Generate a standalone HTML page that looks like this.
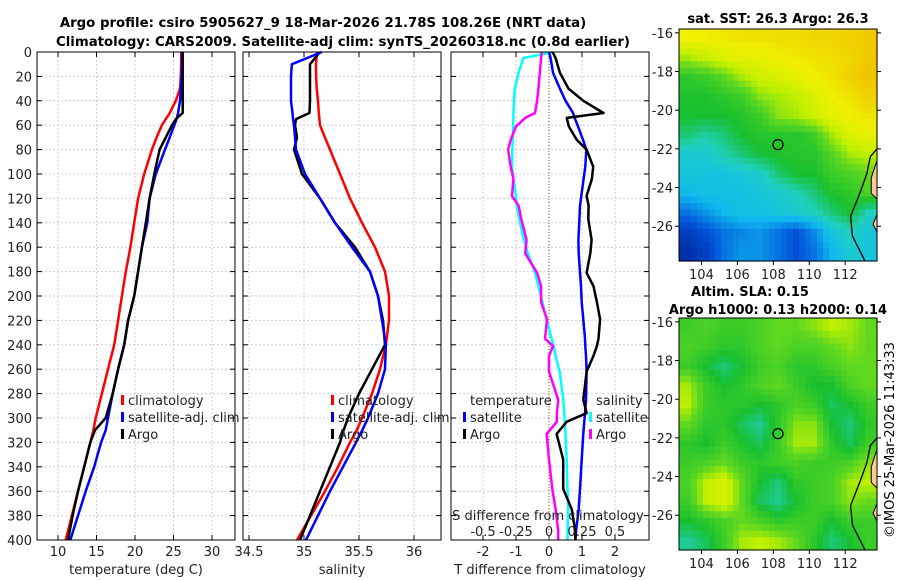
<!DOCTYPE html>
<html><head><meta charset="utf-8"><style>
body{margin:0;background:#fff;}
svg{display:block;font-family:"DejaVu Sans","Liberation Sans",sans-serif;}
</style></head><body>
<svg id="fig" width="900" height="580" viewBox="0 0 900 580" xmlns="http://www.w3.org/2000/svg">
<text x="323" y="27" font-size="13.3" font-weight="bold" text-anchor="middle">Argo profile: csiro 5905627_9 18-Mar-2026 21.78S 108.26E (NRT data)</text>
<text x="343" y="46" font-size="13.3" font-weight="bold" text-anchor="middle">Climatology: CARS2009. Satellite-adj clim: synTS_20260318.nc (0.8d earlier)</text>
<text x="778" y="23" font-size="13" font-weight="bold" text-anchor="middle">sat. SST: 26.3 Argo: 26.3</text>
<text x="750" y="296" font-size="13" font-weight="bold" text-anchor="middle">Altim. SLA: 0.15</text>
<text x="778" y="314" font-size="13" font-weight="bold" text-anchor="middle">Argo h1000: 0.13 h2000: 0.14</text>
<text transform="translate(894,440) rotate(-90)" font-size="13" text-anchor="middle">©IMOS 25-Mar-2026 11:43:33</text>
<g id="g"></g>
</svg>
<script>
// ---- profile data ----
const depths=[0,10,20,30,40,50,55,60,70,80,100,120,140,160,180,200,220,240,260,280,300,310,320,340,360,380,400];
const tempClim=[26.0,26.0,25.95,25.85,25.3,24.5,24.0,23.5,22.8,22.2,21.2,20.4,19.9,19.4,18.8,18.3,17.8,17.3,16.5,15.7,14.9,14.6,14.2,13.4,12.6,11.8,11.0];
const tempSat=[26.1,26.1,26.05,25.95,25.85,25.6,25.4,25.1,24.5,23.9,22.7,21.9,21.6,20.9,20.4,19.9,19.1,18.6,17.8,17.1,16.5,16.2,15.6,14.7,13.6,12.6,11.6];
const tempArgo=[26.2,26.2,26.2,26.2,26.2,26.2,25.3,24.8,24.0,23.2,22.5,21.9,21.4,20.9,20.4,19.9,19.1,18.6,17.8,17.1,16.2,14.8,14.2,13.4,12.6,11.9,11.3];
const salClim=[35.118,35.109,35.11,35.115,35.127,35.135,35.14,35.145,35.19,35.236,35.327,35.418,35.527,35.645,35.736,35.773,35.773,35.745,35.691,35.618,35.527,35.48,35.418,35.309,35.191,35.064,34.936];
const salSat=[35.164,34.89,34.882,34.882,34.882,34.895,34.9,34.909,34.918,34.927,35.009,35.145,35.282,35.436,35.6,35.673,35.709,35.745,35.736,35.673,35.582,35.53,35.473,35.355,35.236,35.127,35.018];
const salArgo=[35.145,35.055,35.055,35.055,35.055,35.05,34.927,34.918,34.936,34.909,34.982,35.145,35.282,35.464,35.6,35.673,35.718,35.736,35.618,35.5,35.4,35.36,35.327,35.236,35.145,35.055,34.964];
// difference panel
const diffDepths=[0,5,17,30,40,50,54,61,72,80,94,104,118,126,137,154,165,181,192,205,219,235,241,249,262,285,296,303,313,334,358,375,392,400];
const tDiffArgo=[0.11,0.2,0.33,0.59,1.04,1.65,0.54,0.6,0.84,1.14,1.34,1.3,1.14,1.2,1.19,1.29,1.25,1.14,1.35,1.45,1.55,1.5,1.45,1.35,1.14,1.04,1.14,0.54,0.23,0.43,0.43,0.69,0.79,0.8];
const tDiffSat=[0.0,0.05,0.12,0.33,0.5,0.73,0.78,0.88,1.03,1.13,1.1,1.05,0.98,0.94,0.92,0.89,0.9,0.94,0.97,0.99,1.04,1.09,1.1,1.12,1.14,1.12,1.09,1.07,1.04,0.99,0.94,0.9,0.82,0.8];
const sDiffSat=[0.03,-0.195,-0.23,-0.26,-0.265,-0.27,-0.27,-0.272,-0.275,-0.278,-0.28,-0.27,-0.25,-0.245,-0.225,-0.19,-0.16,-0.106,-0.08,-0.05,-0.02,0.02,0.035,0.05,0.08,0.108,0.115,0.12,0.125,0.134,0.14,0.146,0.14,0.14];
const sDiffArgo=[-0.055,-0.06,-0.07,-0.08,-0.09,-0.106,-0.18,-0.25,-0.29,-0.31,-0.29,-0.27,-0.28,-0.23,-0.21,-0.17,-0.18,-0.09,-0.06,-0.06,-0.015,-0.03,0.03,0.0,0.0,0.07,0.06,0.06,-0.018,0.0,0.025,0.05,0.07,0.07];
const depthTicks=[0,20,40,60,80,100,120,140,160,180,200,220,240,260,280,300,320,340,360,380,400];
const tempTicks=[10,15,20,25,30];
const salTicks=[34.5,35,35.5,36];
const tDiffTicks=[-2,-1,0,1,2];
const sDiffTicks=[-0.5,-0.25,0,0.25,0.5];
const sDiffTickLabels=["-0.5","-0.25","0","0.25","0.5"];
// ---- map data (rows top->bottom, lon 102.75..113.77, lat -15.8..-27.8) ----
const sstGrid=[
[0.8,0.8,0.81,0.82,0.82,0.83,0.83,0.84,0.84,0.85,0.86],
[0.7,0.73,0.76,0.78,0.78,0.8,0.81,0.82,0.83,0.84,0.86],
[0.58,0.6,0.64,0.7,0.74,0.76,0.78,0.8,0.82,0.85,0.87],
[0.56,0.56,0.58,0.6,0.68,0.7,0.72,0.76,0.8,0.82,0.85],
[0.55,0.55,0.55,0.57,0.6,0.68,0.7,0.74,0.78,0.8,0.82],
[0.5,0.47,0.5,0.55,0.57,0.57,0.57,0.6,0.7,0.76,0.78],
[0.42,0.42,0.46,0.5,0.54,0.56,0.57,0.57,0.63,0.7,0.72],
[0.4,0.39,0.39,0.41,0.43,0.5,0.55,0.55,0.6,0.62,0.65],
[0.36,0.38,0.38,0.38,0.4,0.42,0.45,0.5,0.56,0.58,0.62],
[0.25,0.3,0.35,0.38,0.38,0.4,0.42,0.45,0.5,0.55,0.45],
[0.15,0.2,0.25,0.28,0.3,0.25,0.2,0.28,0.4,0.45,0.4],
[0.1,0.15,0.25,0.3,0.3,0.25,0.2,0.25,0.35,0.42,0.4]];
const slaGrid=[
[0.6,0.62,0.6,0.6,0.62,0.65,0.65,0.68,0.72,0.7,0.65],
[0.62,0.6,0.58,0.58,0.62,0.65,0.62,0.62,0.65,0.68,0.65],
[0.6,0.55,0.5,0.55,0.6,0.62,0.58,0.58,0.62,0.65,0.65],
[0.7,0.6,0.55,0.58,0.62,0.65,0.6,0.55,0.55,0.62,0.65],
[0.72,0.6,0.58,0.58,0.55,0.58,0.62,0.6,0.52,0.55,0.6],
[0.65,0.58,0.58,0.52,0.48,0.58,0.68,0.68,0.55,0.5,0.58],
[0.58,0.55,0.6,0.56,0.52,0.6,0.7,0.7,0.58,0.52,0.6],
[0.6,0.62,0.65,0.6,0.58,0.6,0.62,0.6,0.6,0.62,0.68],
[0.62,0.72,0.76,0.65,0.55,0.5,0.58,0.6,0.62,0.7,0.72],
[0.6,0.72,0.76,0.65,0.52,0.48,0.55,0.6,0.62,0.68,0.65],
[0.55,0.58,0.62,0.65,0.62,0.58,0.6,0.6,0.55,0.6,0.6],
[0.48,0.52,0.6,0.7,0.72,0.7,0.65,0.58,0.5,0.55,0.6]];
const lonTicks=[104,106,108,110,112];
const latTicks=[-16,-18,-20,-22,-24,-26];
const argoLon=108.26, argoLat=-21.78;
const coastLon=[113.77,113.4,113.2,112.85,112.3,112.4,113.1];
const coastLat=[-22.0,-22.4,-23.3,-24.2,-25.5,-26.5,-27.8];

const NS="http://www.w3.org/2000/svg";
const G=document.getElementById('g');
function el(tag,attrs,parent){const e=document.createElementNS(NS,tag);for(const k in attrs)e.setAttribute(k,attrs[k]);(parent||G).appendChild(e);return e;}
const Y0=52,Y1=540;
const yD=d=>Y0+d*(Y1-Y0)/400;
function lin(d0,d1,r0,r1){return v=>r0+(v-d0)*(r1-r0)/(d1-d0);}
const xT=lin(10,30,58,212), xS=lin(34.5,36,249,414), xTd=lin(-2,2,483,615), xSd=lin(-0.5,0.5,483,615);
const panels=[{x0:37,x1:235,ticks:tempTicks,f:xT,lab:"temperature (deg C)",n:"temperature"},
{x0:243,x1:441,ticks:salTicks,f:xS,lab:"salinity",n:"salinity"},
{x0:451,x1:649,ticks:tDiffTicks,f:xTd,lab:"T difference from climatology",n:"difference"}];
panels.forEach((p,pi)=>{
  const gp=el('g',{});
  
  
  depthTicks.forEach(d=>{
    const l=el('line',{x1:p.x0,x2:p.x1,y1:yD(d),y2:yD(d),stroke:'#c8cce8','stroke-width':1,'stroke-dasharray':'2,2'},gp);
    
    
    el('line',{x1:p.x0,x2:p.x0+5,y1:yD(d),y2:yD(d),stroke:'#000'},gp);
    el('line',{x1:p.x1-5,x2:p.x1,y1:yD(d),y2:yD(d),stroke:'#000'},gp);
    if(pi===0){const t=el('text',{x:32,y:yD(d)+5,'font-size':13,'text-anchor':'end',fill:'#222'},gp);t.textContent=d;
      
      }
  });
  p.ticks.forEach(v=>{
    const x=p.f(v);
    el('line',{x1:x,x2:x,y1:Y0,y2:Y1,stroke:'#e8c8c0','stroke-width':1,'stroke-dasharray':'2,2'},gp);
    el('line',{x1:x,x2:x,y1:Y1-5,y2:Y1,stroke:'#000'},gp);
    el('line',{x1:x,x2:x,y1:Y0,y2:Y0+5,stroke:'#000'},gp);
    const t=el('text',{x:x,y:556,'font-size':13,'text-anchor':'middle',fill:'#222'},gp);t.textContent=v;
    
    
  });
  const xl=el('text',{x:(p.x0+p.x1)/2,y:574,'font-size':13,'text-anchor':'middle',fill:'#222'},gp);xl.textContent=p.lab;
  
  
  p.g=gp;
});
function line(xs,ds,f,color,name,w){
  const pts=xs.map((v,i)=>f(v).toFixed(1)+','+yD(ds[i]).toFixed(1)).join(' ');
  const e=el('polyline',{points:pts,fill:'none',stroke:color,'stroke-width':w||2.5,'stroke-linejoin':'round'});
  
  
}
// zero line
const z=el('line',{x1:xTd(0),x2:xTd(0),y1:Y0,y2:Y1,stroke:'#667733','stroke-width':1,'stroke-dasharray':'1,2'});


line(tempClim,depths,xT,'#ff0000','temp-climatology-line');
line(tempSat,depths,xT,'#0000ff','temp-satellite-line');
line(tempArgo,depths,xT,'#000000','temp-argo-line');
line(salClim,depths,xS,'#ff0000','sal-climatology-line');
line(salArgo,depths,xS,'#000000','sal-argo-line');
line(salSat,depths,xS,'#0000ff','sal-satellite-line');
line(sDiffSat,diffDepths,xSd,'#00ffff','sdiff-satellite-line');
line(sDiffArgo,diffDepths,xSd,'#ff00ff','sdiff-argo-line');
line(tDiffSat,diffDepths,xTd,'#0000ff','tdiff-satellite-line');
line(tDiffArgo,diffDepths,xTd,'#000000','tdiff-argo-line');
panels.forEach(p=>{const r=el('rect',{x:p.x0,y:Y0,width:p.x1-p.x0,height:Y1-Y0,fill:'none',stroke:'#000','stroke-width':1});
  
  });
// S diff axis inside panel 3
const sl=el('text',{x:548,y:520,'font-size':13,'text-anchor':'middle',fill:'#222'});sl.textContent='S difference from climatology';


sDiffTicks.forEach((v,i)=>{const t=el('text',{x:xSd(v),y:536,'font-size':13,'text-anchor':'middle',fill:'#222'});t.textContent=sDiffTickLabels[i];
  
  });
// legends
function leg(x,y,color,label){
  if(color){const m=el('rect',{x:x-7,y:y-10,width:3,height:10,fill:color});
    
    }
  const t=el('text',{x:x,y:y,'font-size':13,fill:'#222'});t.textContent=label;
  
  
}
leg(128,405,'#ff0000','climatology');leg(128,422,'#0000ff','satellite-adj. clim');leg(128,439,'#000','Argo');
leg(338,405,'#ff0000','climatology');leg(338,422,'#0000ff','satellite-adj. clim');leg(338,439,'#000','Argo');
leg(470,405,null,'temperature');leg(470,422,'#0000ff','satellite');leg(470,439,'#000','Argo');
leg(596,405,null,'salinity');leg(596,422,'#00ffff','satellite');leg(596,439,'#ff00ff','Argo');
// ---- maps ----
const stops=[[0,[0,16,122]],[0.2,[0,80,216]],[0.35,[16,184,240]],[0.45,[32,208,192]],[0.55,[24,192,48]],[0.65,[96,216,32]],[0.72,[192,240,0]],[0.8,[240,240,0]],[0.9,[240,176,0]],[1,[240,120,0]]];
function cmap(v){for(let i=1;i<stops.length;i++){if(v<=stops[i][0]){const a=stops[i-1],b=stops[i],t=(v-a[0])/(b[0]-a[0]);return 'rgb('+a[1].map((c,k)=>Math.round(c+(b[1][k]-c)*t)).join(',')+')';}}return 'rgb(240,120,0)';}
function drawMap(grid,top,name){
  const X0=679,X1=877,Yt=top,Yb=top+232;
  const fx=lin(102.75,113.77,X0,X1), fy=lin(-15.8,-27.8,Yt,Yb);
  const gm=el('g',{});
  
  
  const rows=grid.length, cols=grid[0].length;
  const sub=3;
  for(let r=0;r<rows*sub;r++)for(let c=0;c<cols*sub;c++){
    const fr=Math.min(rows-1,Math.max(0,(r+0.5)/sub-0.5)), fc=Math.min(cols-1,Math.max(0,(c+0.5)/sub-0.5));
    const r0=Math.floor(fr),c0=Math.floor(fc),r1=Math.min(rows-1,r0+1),c1=Math.min(cols-1,c0+1),tr=fr-r0,tc=fc-c0;
    const v=grid[r0][c0]*(1-tr)*(1-tc)+grid[r0][c1]*(1-tr)*tc+grid[r1][c0]*tr*(1-tc)+grid[r1][c1]*tr*tc;
    const w=(X1-X0)/(cols*sub),h=(Yb-Yt)/(rows*sub);
    el('rect',{x:(X0+c*w).toFixed(2),y:(Yt+r*h).toFixed(2),width:(w+0.6).toFixed(2),height:(h+0.6).toFixed(2),fill:cmap(v)},gm);
  }
  const land=el('polygon',{points:[[113.77,-22.6],[113.45,-23.5],[113.45,-24.3],[113.77,-24.6]].map(p=>fx(p[0])+','+fy(p[1])).join(' '),fill:'#fcc898',stroke:'#000'},gm);
  
  
  el('polygon',{points:[[113.77,-25.4],[113.55,-25.9],[113.77,-26.3]].map(p=>fx(p[0])+','+fy(p[1])).join(' '),fill:'#fcc898',stroke:'#000'},gm);
  const cst=el('polyline',{points:coastLon.map((v,i)=>fx(v)+','+fy(coastLat[i])).join(' '),fill:'none',stroke:'#000','stroke-width':1.3},gm);
  
  
  const mk=el('circle',{cx:fx(argoLon),cy:fy(argoLat),r:5,fill:'none',stroke:'#000','stroke-width':1.3},gm);
  
  
  el('rect',{x:X0,y:Yt,width:X1-X0,height:Yb-Yt,fill:'none',stroke:'#000'},gm);
  lonTicks.forEach(v=>{el('line',{x1:fx(v),x2:fx(v),y1:Yb,y2:Yb+4,stroke:'#000'},gm);
    const t=el('text',{x:fx(v),y:Yb+18,'font-size':13,'text-anchor':'middle',fill:'#222'},gm);t.textContent=v;
    
    });
  latTicks.forEach(v=>{el('line',{x1:X0-4,x2:X0,y1:fy(v),y2:fy(v),stroke:'#000'},gm);
    el('line',{x1:X1,x2:X1+4,y1:fy(v),y2:fy(v),stroke:'#000'},gm);
    const t=el('text',{x:X0-6,y:fy(v)+5,'font-size':13,'text-anchor':'end',fill:'#222'},gm);t.textContent=v;
    
    });
}
drawMap(sstGrid,29,'sst-map');
drawMap(slaGrid,318,'sla-map');
</script>
</body></html>
